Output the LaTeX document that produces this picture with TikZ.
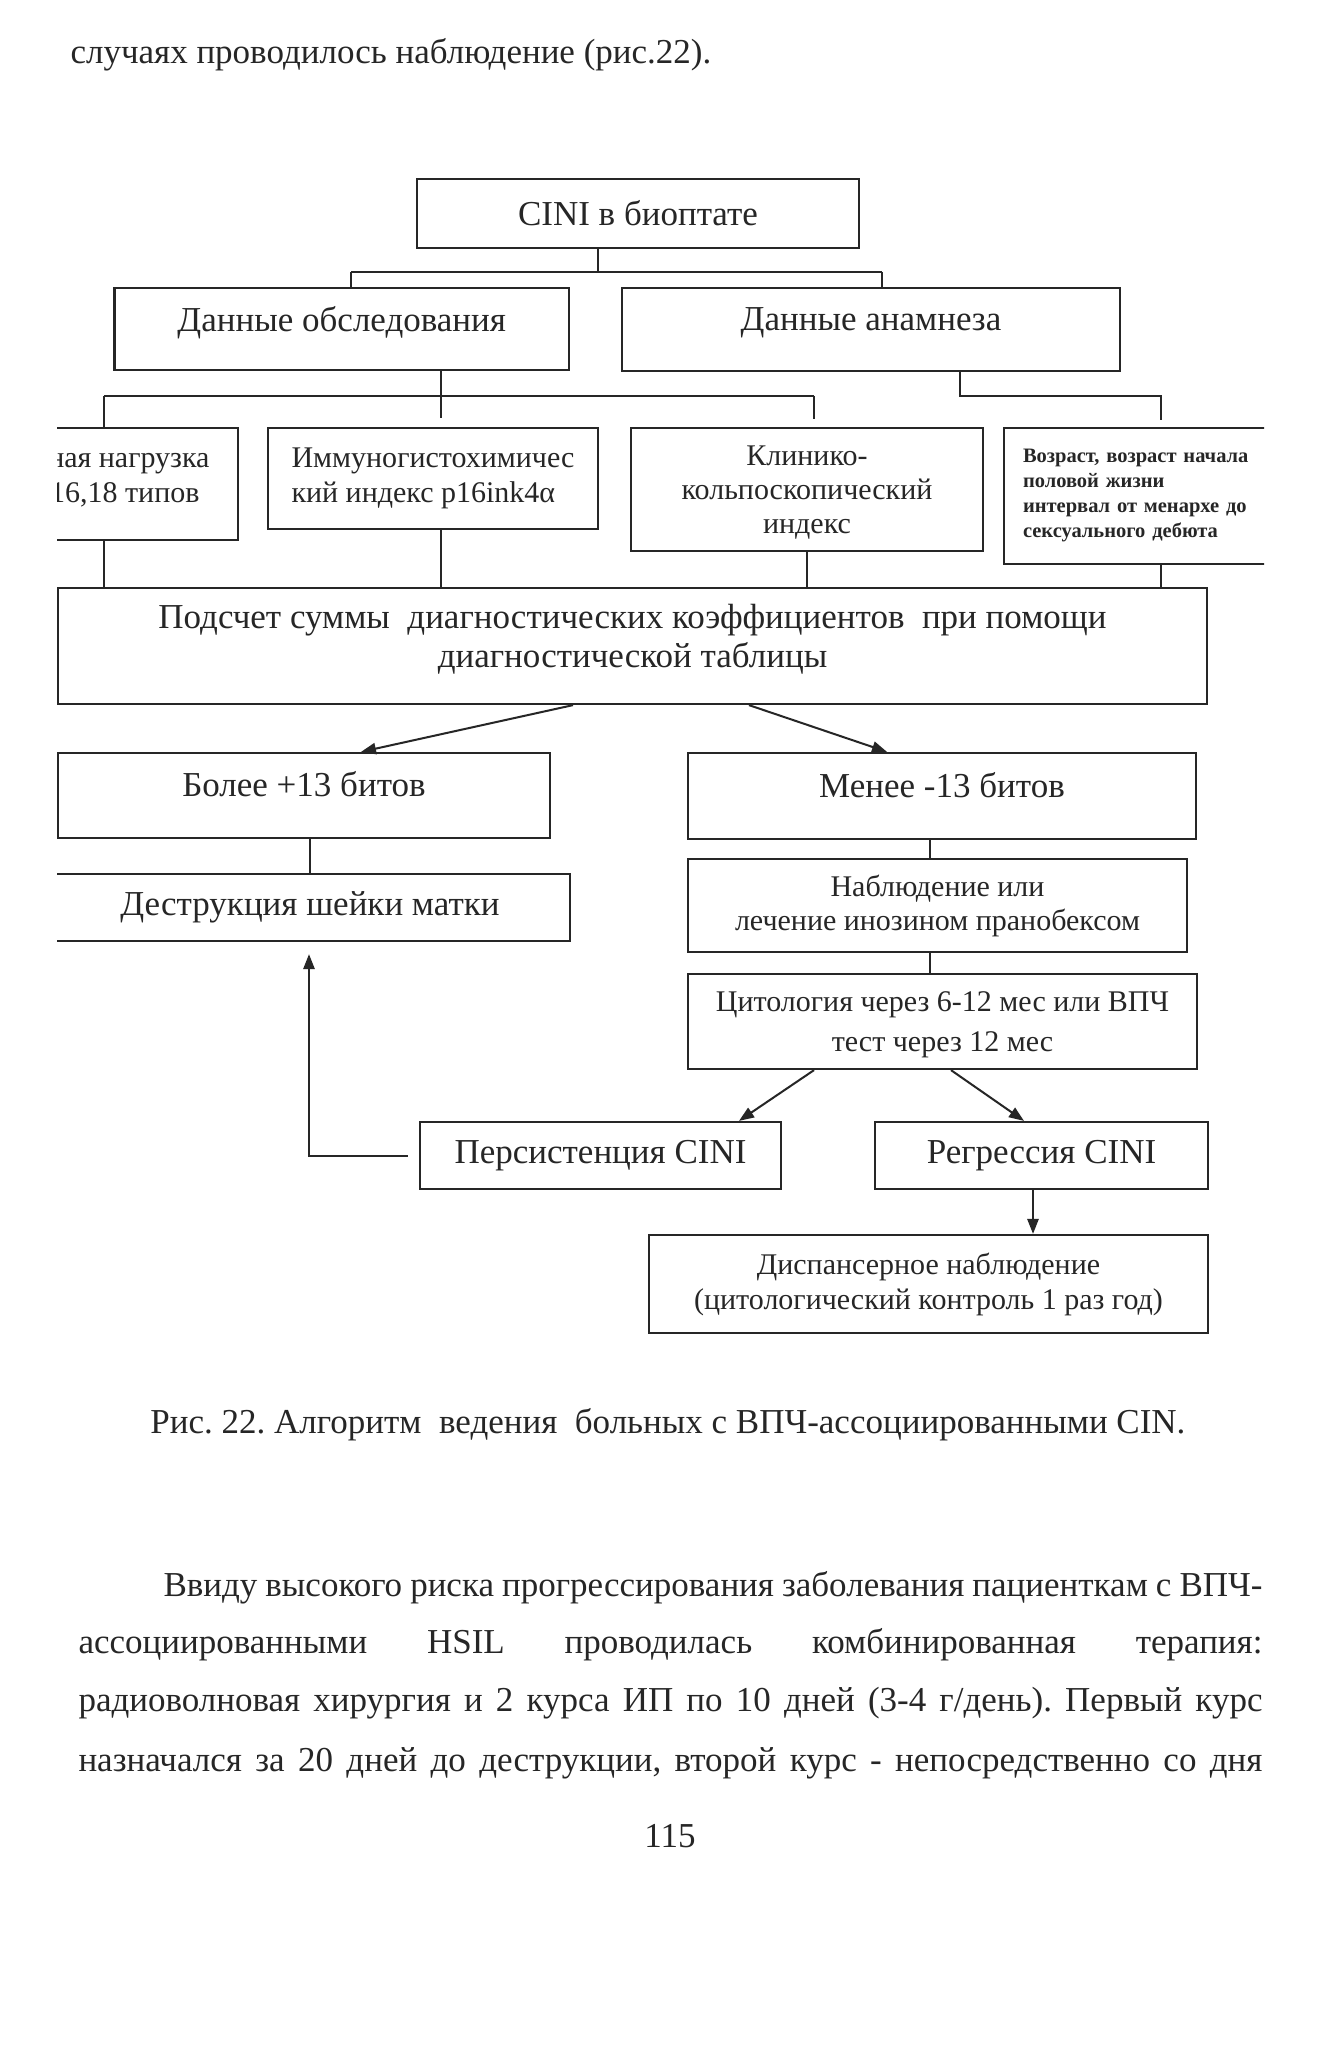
\documentclass[tikz,border=0pt]{standalone}
\usepackage{fontspec}
\setmainfont{Liberation Serif}
\usetikzlibrary{arrows.meta}
\frenchspacing
\begin{document}
\begin{tikzpicture}[x=0.4pt,y=-0.4pt,
  box/.style={draw=black!85, line width=0.9pt, inner sep=0pt, align=center, text=black!85},
  f14/.style={font=\fontsize{14}{16}\selectfont},
  f12/.style={font=\fontsize{12}{14}\selectfont},
  txt/.style={text=black!85, inner sep=0pt},
  link/.style={draw=black!85, line width=0.8pt},
  arr/.style={link, -{Triangle[length=6pt,width=4.5pt]}},
]
\useasboundingbox[fill=white] (0,0) rectangle (1322,2050);

% running text above
\node[txt, f14, anchor=base west] (top) at (70,64) {случаях проводилось наблюдение (рис.22).};

\begin{scope}
\clip (57,150) rectangle (1264,1360);
% level 0
\node[box, f14, minimum width=176.8pt, minimum height=27.6pt] (cini) at (638,213.5) {CINI в биоптате};
% level 1
\node[box, f14, text depth=8.2pt, minimum width=181.8pt, minimum height=32.8pt] (obs) at (341.75,329) {Данные обследования};
\node[box, f14, text depth=8.2pt, minimum width=199.2pt, minimum height=33.2pt] (anam) at (871,329.5) {Данные анамнеза};
% level 2
\node[box, minimum width=95.2pt, minimum height=44.8pt] (vir) at (119,484) {};
\node[txt, f12, anchor=base east] (vt1) at (210,468) {ная нагрузка};
\node[txt, f12, anchor=base east] (vt2) at (200,503) {16,18 типов};
\node[box, f12, align=left, minimum width=132pt, minimum height=40.4pt] (imm) at (433,478.5)
  {Иммуногистохимичес\\кий индекс p16ink4α};
\node[box, font=\fontsize{12}{13.5}\selectfont, text depth=0pt, minimum width=141pt, minimum height=49.2pt] (klin) at (807,489.5)
  {Клинико-\\кольпоскопический\\индекс};
\node[box, font=\fontsize{8.2}{10}\selectfont\bfseries, align=left, text width=115.2pt, inner xsep=7.6pt,
  minimum width=130.4pt, minimum height=54.4pt] (age) at (1167,496)
  {Возраст, возраст начала\\половой жизни\\интервал от менархе до\\сексуального дебюта};
% level 3
\node[box, font=\fontsize{14}{15.5}\selectfont, text depth=8pt, minimum width=459.6pt, minimum height=46.4pt] (calc) at (632.5,646)
  {Подсчет суммы\ \ диагностических коэффициентов\ \ при помощи\\диагностической таблицы};
% level 4
\node[box, f14, text depth=9pt, minimum width=196.8pt, minimum height=34pt] (more) at (304,795.5) {Более +13 битов};
\node[box, f14, text depth=9pt, minimum width=203.2pt, minimum height=34.4pt] (less) at (942,796) {Менее -13 битов};
\node[box, f14, minimum width=208pt, minimum height=26.8pt] (destr) at (310,907.5) {Деструкция шейки матки};
\node[box, font=\fontsize{12}{13.6}\selectfont, minimum width=199.6pt, minimum height=37.2pt] (obsv) at (937.5,905.5)
  {Наблюдение или\\лечение инозином пранобексом};
\node[box, font=\fontsize{12}{16}\selectfont, text depth=0pt, minimum width=203.6pt, minimum height=38pt] (cyto) at (942.5,1021.5)
  {Цитология через 6-12 мес или ВПЧ\\тест через 12 мес};
\node[box, f14, minimum width=144.4pt, minimum height=26.8pt] (pers) at (600.5,1155.5) {Персистенция CINI};
\node[box, f14, minimum width=133.2pt, minimum height=26.8pt] (regr) at (1041.5,1155.5) {Регрессия CINI};
\node[box, font=\fontsize{12}{14}\selectfont, minimum width=223.6pt, minimum height=39.2pt] (disp) at (928.5,1284)
  {Диспансерное наблюдение\\(цитологический контроль 1 раз год)};

% junction coordinates
\coordinate (j1) at (598,272);
\coordinate (j1l) at (351,272);
\coordinate (j1r) at (882,272);
\coordinate (j2) at (441,396);
\coordinate (j2l) at (104,396);
\coordinate (j2r) at (814,396);
\coordinate (j2s) at (441,418);
\coordinate (j2rs) at (814,419);
\coordinate (j3) at (960,396);
\coordinate (j3r) at (1161,396);
\coordinate (j3s) at (1161,420);

\draw[link] (cini.south -| j1) -- (j1);
\draw[link] (j1l) -- (j1r);
\draw[link] (j1l) -- (obs.north -| j1l);
\draw[link] (j1r) -- (anam.north -| j1r);

\draw[link] (obs.south -| j2) -- (j2s);
\draw[link] (j2l) -- (j2r);
\draw[link] (j2l) -- (vir.north -| j2l);
\draw[link] (j2r) -- (j2rs);
\draw[link] (anam.south -| j3) -- (j3) -- (j3r) -- (j3s);

\draw[link] (vir.south -| j2l) -- (calc.north -| j2l);
\draw[link] (imm.south -| j2) -- (calc.north -| j2);
\draw[link] (klin.south) -- (calc.north -| klin.south);
\draw[link] (age.south -| j3r) -- (calc.north -| j3r);

% arrows from calc
\coordinate (a1s) at (573,704);
\coordinate (a1e) at (361,753);
\coordinate (a2s) at (749,704);
\coordinate (a2e) at (887,753);
\draw[arr] (calc.south -| a1s) -- (more.north -| a1e);
\draw[arr] (calc.south -| a2s) -- (less.north -| a2e);

\draw[link] (more.south -| destr.north) -- (destr.north);
\coordinate (v2) at (929.5,900);
\draw[link] (less.south -| v2) -- (obsv.north -| v2);
\draw[link] (obsv.south -| v2) -- (cyto.north -| v2);

\coordinate (a3s) at (814,1069);
\coordinate (a3e) at (739,1122);
\coordinate (a4s) at (951,1069);
\coordinate (a4e) at (1024,1122);
\draw[arr] (cyto.south -| a3s) -- (pers.north -| a3e);
\draw[arr] (cyto.south -| a4s) -- (regr.north -| a4e);

\coordinate (v3) at (1033,1210);
\draw[arr] (regr.south -| v3) -- (disp.north -| v3);

\coordinate (v4) at (309,1100);
\draw[arr, shorten <=4.4pt, shorten >=4.8pt] (pers.west) -| (destr.south -| v4);
\end{scope}

% caption
\node[txt, f14, anchor=base] (cap) at (668,1433)
  {Рис. 22. Алгоритм\ \ ведения\ \ больных с ВПЧ-ассоциированными CIN.};

% paragraph
\node[txt, f14, anchor=base west] (p1) at (163,1596)
  {\makebox[439.6pt][s]{Ввиду высокого риска прогрессирования заболевания пациенткам с ВПЧ-}};
\node[txt, f14, anchor=base west] (p2) at (78,1653)
  {\makebox[473.6pt][s]{ассоциированными HSIL проводилась комбинированная терапия:}};
\node[txt, f14, anchor=base west] (p3) at (78,1711)
  {\makebox[473.6pt][s]{радиоволновая хирургия и 2 курса ИП по 10 дней (3-4 г/день). Первый курс}};
\node[txt, f14, anchor=base west] (p4) at (78,1771)
  {\makebox[473.6pt][s]{назначался за 20 дней до деструкции, второй курс - непосредственно со дня}};

\node[txt, f14, anchor=base] (pg) at (670,1847) {115};
\end{tikzpicture}
\end{document}
